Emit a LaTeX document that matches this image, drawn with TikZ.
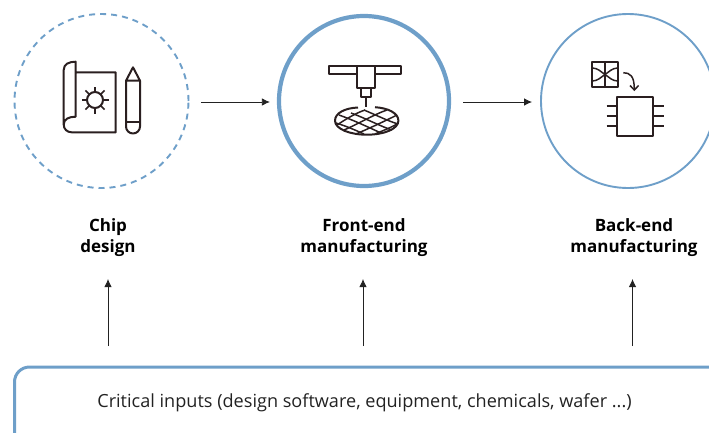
\documentclass[tikz,border=0pt]{standalone}
\usepackage{fontspec}
\setmainfont{Open Sans}
\usetikzlibrary{arrows.meta}
\definecolor{stageblue}{HTML}{6E9FC9}
\definecolor{icondark}{HTML}{2A1F20}
\definecolor{flowdark}{HTML}{222222}
\tikzset{
  stage/.style={circle,draw=stageblue,minimum size=174pt,inner sep=0pt,line width=1.9pt},
  stagelabel/.style={align=center,font=\fontsize{17}{21}\selectfont\bfseries,text=black,inner sep=0pt},
  flow/.style={draw=flowdark,line width=0.8pt,-{Latex[length=8pt,width=7.5pt]}},
  icon/.style={draw=icondark,line width=2pt,line join=round},
  iconthin/.style={draw=icondark,line width=1.5pt},
}
\begin{document}
\begin{tikzpicture}[x=1pt,y=-1pt]
\useasboundingbox (0,0) rectangle (709,432);
\node[stage,dashed,dash pattern=on 6pt off 5pt] (design) at (101.5,101) {};
\node[stage,line width=4.2pt,minimum size=170pt] (front) at (364,101) {};
\node[stage] (back) at (628,101) {};
\node[stagelabel] (ldesign) at (108,237.5) {Chip\\design};
\node[stagelabel] (lfront) at (364,237.5) {Front-end\\manufacturing};
\node[stagelabel] (lback) at (634,237.5) {Back-end\\manufacturing};
\draw[stageblue,line width=3pt,rounded corners=15pt] (740,367) -- (14.5,367) -- (14.5,470) -- (740,470);
\node[inner sep=0pt,font=\fontsize{18.1}{20}\selectfont,text=flowdark] (inputs) at (364.5,403) {Critical inputs (design software, equipment, chemicals, wafer ...)};
\coordinate (a1) at (108,346); \coordinate (b1) at (108,279);
\coordinate (a2) at (363,346); \coordinate (b2) at (363,279);
\coordinate (a3) at (632.5,346); \coordinate (b3) at (632.5,279);
\path[flow] (a1) -- (b1);
\path[flow] (a2) -- (b2);
\path[flow] (a3) -- (b3);
\path[flow,shorten <=11.5pt,shorten >=7pt] ([yshift=-1pt]design.east) -- ([yshift=-1pt]front.west);
\path[flow,shorten <=12pt,shorten >=8pt] ([yshift=-1pt]front.east) -- ([yshift=-1pt]back.west);
% blueprint icon
\draw[icon] (75.7,72.3) -- (115.7,72.3) -- (115.7,132.3) -- (71.7,132.3) .. controls (67,132.3) and (63.7,129) .. (63.7,124.5) -- (63.7,70) .. controls (63.7,64) and (69,61.7) .. (75.7,61.7) -- (75.7,116.7) .. controls (69,116.7) and (63.7,119) .. (63.7,124.5);
\draw[icon] (95,100) circle (8pt);
\foreach \a in {0,45,...,315}{\draw[iconthin] (95,100) ++(\a:8pt) -- ++(\a:5.5pt);}
\draw[icon] (126,80.7) -- (133,67.3) -- (140,80.7) -- (140,126.5) arc[start angle=0,end angle=-180,radius=7pt] -- (126,80.7) -- (140,80.7);
\draw[icon] (126,121.7) -- (140,121.7);
% front-end icon
\draw[icon] (356.7,74.3) -- (329,74.3) -- (329,65.7) -- (401,65.7) -- (401,74.3) -- (375,74.3);
\draw[icon] (356.7,65.7) rectangle (375,87.7);
\draw[icon] (361,87.7) rectangle (371,96.7);
\draw[iconthin] (366,96.7) -- (366,107.3);
\draw[icon] (358,107.5) .. controls (345,108) and (335,113) .. (335,120.7) .. controls (335,129) and (350,134.7) .. (366.7,134.7) .. controls (384,134.7) and (398.4,129) .. (398.4,120.7) .. controls (398.4,113) and (388,108) .. (375,107.2);
\draw[iconthin] (337,125) .. controls (346,119) and (356,113) .. (365,110);
\draw[iconthin] (344,130) .. controls (358,124) and (375,114) .. (387,110);
\draw[iconthin] (356,134) .. controls (370,128) and (385,121) .. (397,115);
\draw[iconthin] (375,134) .. controls (382,131) and (390,128) .. (397,124);
\draw[iconthin] (351,113) .. controls (365,118) and (382,127) .. (392,130);
\draw[iconthin] (339,115) .. controls (353,120) and (368,127) .. (381,133);
\draw[iconthin] (336,123) .. controls (346,126) and (355,130) .. (364,134);
\draw[iconthin] (364,110) .. controls (376,115) and (388,121) .. (398,124);
% back-end icon
\draw[icon] (592.3,61.7) rectangle (617.7,87.3);
\draw[icon] (605,61.7) -- (605,87.3);
\draw[iconthin] (592.3,68) .. controls (598,68) and (601,72) .. (605,74.5) .. controls (609,72) and (612,68) .. (617.7,68);
\draw[iconthin] (592.3,81) .. controls (598,81) and (601,77) .. (605,74.5) .. controls (609,77) and (612,81) .. (617.7,81);
\draw[iconthin] (623.3,72.7) .. controls (630,72.7) and (634.3,76) .. (634.3,89);
\draw[iconthin] (630,85.5) -- (634.3,90) -- (638.6,85.5);
\draw[icon] (617,96.7) rectangle (653.3,135.7);
\foreach \y in {105.7,115.7,126}{
  \draw[icon] (606.7,\y) -- (617,\y);
  \draw[icon] (653.3,\y) -- (664,\y);
}
\end{tikzpicture}
\end{document}
